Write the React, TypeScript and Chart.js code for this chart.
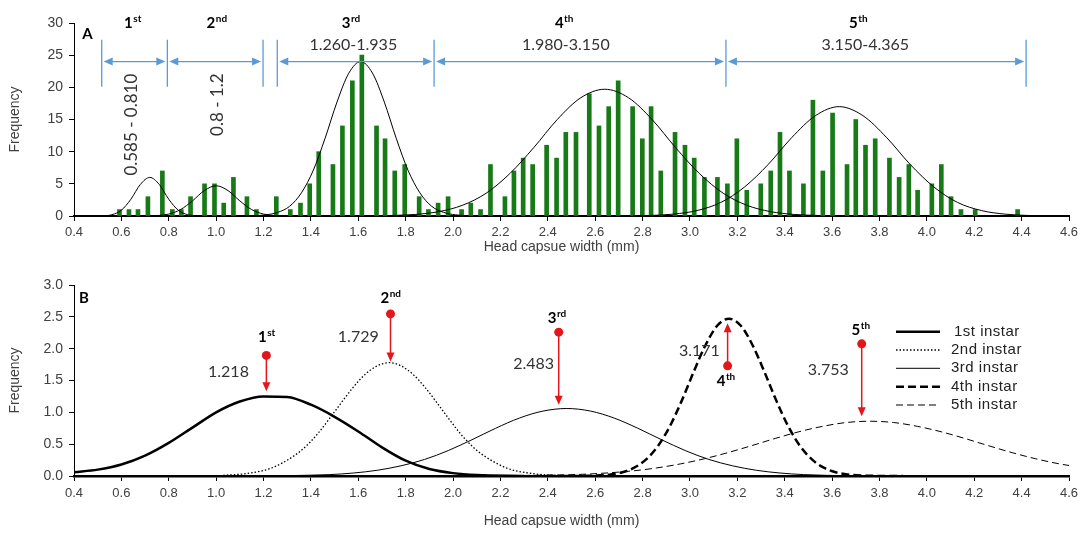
import React, { useEffect, useRef } from "react";
import { Chart, registerables } from "chart.js";
Chart.register(...registerables);

// ---------- Panel A: head capsule width frequency ----------
const widthsA = [0.592,0.632,0.670,0.712,0.773,0.815,0.853,0.892,0.951,0.993,1.032,1.073,1.130,1.170,1.254,1.313,1.356,1.395,1.433,1.493,1.533,1.575,1.615,1.677,1.713,1.754,1.796,1.857,1.896,1.937,1.979,2.036,2.075,2.116,2.158,2.219,2.257,2.296,2.336,2.395,2.437,2.476,2.519,2.575,2.616,2.657,2.697,2.758,2.799,2.836,2.877,2.937,2.979,3.018,3.061,3.116,3.158,3.198,3.240,3.299,3.341,3.380,3.420,3.479,3.519,3.561,3.602,3.663,3.700,3.741,3.782,3.842,3.883,3.924,3.961,4.021,4.061,4.102,4.144,4.204,4.383];
const freqA = [1,1,1,3,7,1,1,3,5,5,2,6,3,1,3,1,2,5,10,8,14,21,25,14,12,7,8,3,1,2,3,1,2,1,8,3,7,9,8,11,9,13,13,19,14,17,21,17,12,17,7,13,11,9,6,6,5,12,4,5,7,13,7,5,18,7,16,8,15,11,12,9,6,8,4,5,8,3,1,1,1];

// fitted curves in panel A
const fitA1X = [0.42,0.52,0.56,0.60,0.64,0.68,0.72,0.76,0.80,0.84,0.88,0.92];
const fitA1Y = [0,0.03,0.2,0.9,2.6,4.9,6.0,4.9,2.6,0.9,0.2,0.03];
const fitA2X = [0.72,0.75,0.80,0.85,0.90,0.95,1.00,1.05,1.10,1.15,1.20,1.25,1.30];
const fitA2Y = [0.01,0.06,0.3,1.0,2.35,3.95,4.7,3.95,2.35,1.0,0.3,0.06,0.01];
const fitA3X = [1.11,1.21,1.26,1.31,1.36,1.41,1.46,1.51,1.56,1.61,1.66,1.71,1.76,1.81,1.86,1.91,1.96,2.01,2.06];
const fitA3Y = [0.01,0.18,0.57,1.5,3.6,7.1,12.1,17.7,22.2,24,22.2,17.7,12.1,7.1,3.6,1.5,0.57,0.18,0.05];
const fitA4X = [1.74,1.84,1.94,2.04,2.14,2.24,2.34,2.44,2.54,2.64,2.74,2.84,2.94,3.04,3.14,3.24,3.34,3.44,3.54];
const fitA4Y = [0.08,0.24,0.68,1.67,3.55,6.6,10.6,15.0,18.4,19.7,18.4,15.0,10.6,6.6,3.55,1.67,0.68,0.24,0.08];
const fitA5X = [2.76,2.83,2.93,3.03,3.13,3.23,3.33,3.43,3.53,3.63,3.73,3.83,3.93,4.03,4.13,4.23,4.33,4.43,4.52];
const fitA5Y = [0.03,0.08,0.29,0.85,2.1,4.5,8.0,12.2,15.6,17.0,15.6,12.2,8.0,4.5,2.1,0.85,0.29,0.08,0.02];

// instar boundaries (mm) and labels
const boundsA = [0.517, 0.794, 1.198, 1.258, 1.92, 3.152, 4.419];
const rangeTextsA = ["1.260-1.935", "1.980-3.150", "3.150-4.365"];
const rotTextsA = ["0.585 - 0.810", "0.8 - 1.2"];
const instarBase = ["1", "2", "3", "4", "5"];
const instarSup = ["st", "nd", "rd", "th", "th"];

// ---------- Panel B: normal distributions of each instar ----------
const fitB1X = [0.4,0.5,0.6,0.7,0.8,0.9,1.0,1.1,1.2,1.3,1.4,1.5,1.6,1.7,1.8,1.9,2.0,2.1,2.3];
const fitB1Y = [0.06,0.1,0.18,0.32,0.52,0.76,1.0,1.17,1.25,1.24,1.12,0.93,0.7,0.45,0.24,0.11,0.045,0.015,0];
const fitB2X = [1.03,1.13,1.23,1.33,1.38,1.43,1.48,1.53,1.58,1.63,1.68,1.73,1.78,1.83,1.88,1.93,1.98,2.03,2.08,2.13,2.23,2.33,2.43,2.6];
const fitB2Y = [0.01,0.04,0.12,0.32,0.47,0.67,0.91,1.16,1.40,1.60,1.73,1.78,1.73,1.60,1.40,1.16,0.91,0.67,0.47,0.32,0.12,0.04,0.01,0];
const fitB3X = [1.28,1.48,1.58,1.68,1.78,1.88,1.98,2.08,2.18,2.28,2.38,2.48,2.58,2.68,2.78,2.88,2.98,3.08,3.18,3.28,3.38,3.48,3.68,3.9];
const fitB3Y = [0.004,0.022,0.047,0.09,0.16,0.26,0.40,0.57,0.75,0.91,1.02,1.06,1.02,0.91,0.75,0.57,0.40,0.26,0.16,0.09,0.047,0.022,0.004,0];
const fitB4X = [2.4,2.565,2.665,2.715,2.765,2.815,2.865,2.915,2.965,3.015,3.065,3.115,3.165,3.215,3.265,3.315,3.365,3.415,3.465,3.515,3.565,3.615,3.665,3.765,3.9];
const fitB4Y = [0,0.003,0.025,0.06,0.13,0.26,0.47,0.78,1.18,1.63,2.05,2.36,2.47,2.36,2.05,1.63,1.18,0.78,0.47,0.26,0.13,0.06,0.025,0.003,0];
const fitB5X = [2.3,2.56,2.76,2.86,2.96,3.06,3.16,3.26,3.36,3.46,3.56,3.66,3.76,3.86,3.96,4.06,4.16,4.26,4.36,4.46,4.56,4.6];
const fitB5Y = [0.008,0.029,0.081,0.127,0.19,0.27,0.367,0.476,0.59,0.695,0.78,0.84,0.86,0.84,0.78,0.695,0.59,0.476,0.367,0.27,0.19,0.165];

const legendB = ["1st instar", "2nd instar", "3rd instar", "4th instar", "5th instar"];
const meanTextsB = ["1.218", "1.729", "2.483", "3.171", "3.753"];

const xTickMin = 0.4, xTickMax = 4.6, xTickStep = 0.2;
const xTitle = "Head capsue width (mm)";
const yTitle = "Frequency";

// ---------- styling / annotation layout (not data) ----------
const FONT_AX = "'Liberation Sans', Arial, sans-serif";
const FONT_TXT = "Lato, 'Open Sans', sans-serif";
const BLUE = "#5b9bd5";
const RED = "#e3161c";
const GREEN = "#177a17";
const AX_TXT = "#404040";

const annotLayoutA = {
  arrowY: 24.0, vTop: 27.4, vBot: 20.1,
  instarX: [0.647, 1.002, 1.568, 2.468, 3.71], instarBaseY: 29.3,
  rangeX: [1.579, 2.476, 3.74], rangeY: 26.6,
  rotX: [0.642, 1.006], rotY: [14.2, 17.3],
};
const annotLayoutB = {
  arrows: [
    { x: 1.212, dot: 1.894, tip: 1.33 },
    { x: 1.736, dot: 2.546, tip: 1.80 },
    { x: 2.446, dot: 2.259, tip: 1.12 },
    { x: 3.159, dot: 1.73, tip: 2.40 },
    { x: 3.725, dot: 2.076, tip: 0.94 },
  ],
  labels: [
    { x: 1.212, y: 2.11 }, { x: 1.736, y: 2.71 }, { x: 2.438, y: 2.40 }, { x: 3.151, y: 1.41 }, { x: 3.72, y: 2.22 },
  ],
  nums: [
    { x: 1.052, y: 1.643 }, { x: 1.60, y: 2.19 }, { x: 2.34, y: 1.76 }, { x: 3.04, y: 1.97 }, { x: 3.584, y: 1.66 },
  ],
};

const pts = (xs: number[], ys: number[]) => xs.map((x, i) => ({ x, y: ys[i] }));

function drawSup(ctx: CanvasRenderingContext2D, base: string, sup: string, cx: number, by: number, size: number) {
  const bf = `bold ${size}px ${FONT_TXT}`;
  const sf = `bold ${Math.round(size * 0.68)}px ${FONT_TXT}`;
  ctx.font = bf; const wb = ctx.measureText(base).width;
  ctx.font = sf; const ws = ctx.measureText(sup).width;
  const x0 = cx - (wb + ws) / 2;
  ctx.textAlign = "left"; ctx.textBaseline = "alphabetic";
  ctx.font = bf; ctx.fillText(base, x0, by);
  ctx.font = sf; ctx.fillText(sup, x0 + wb + 0.5, by - size * 0.4);
}

function arrowHead(ctx: CanvasRenderingContext2D, x: number, y: number, dx: number, dy: number, len: number, half: number) {
  const bx = x - dx * len, by = y - dy * len;
  ctx.beginPath();
  ctx.moveTo(x, y);
  ctx.lineTo(bx - dy * half, by + dx * half);
  ctx.lineTo(bx + dy * half, by - dx * half);
  ctx.closePath();
  ctx.fill();
}

function drawAxisTitles(chart: any, xTitleY: number, letter: string, letterX: number, letterY: number) {
  const { ctx, chartArea } = chart;
  ctx.save();
  ctx.fillStyle = AX_TXT;
  ctx.font = `14px ${FONT_AX}`;
  ctx.textAlign = "center"; ctx.textBaseline = "middle";
  ctx.fillText(xTitle, (chartArea.left + chartArea.right) / 2 - 10, xTitleY);
  ctx.save();
  ctx.translate(15, (chartArea.top + chartArea.bottom) / 2);
  ctx.rotate(-Math.PI / 2);
  ctx.fillText(yTitle, 0, 0);
  ctx.restore();
  ctx.fillStyle = "#000";
  ctx.font = `bold 15px ${FONT_TXT}`;
  ctx.fillText(letter, letterX, letterY);
  ctx.restore();
}

const annotA = {
  id: "annotA",
  afterDraw(chart: any) {
    const { ctx, scales } = chart;
    const px = (v: number) => scales.x.getPixelForValue(v);
    const py = (v: number) => scales.y.getPixelForValue(v);
    drawAxisTitles(chart, 247, "A", 87.5, 34);
    const L = annotLayoutA;
    ctx.save();
    ctx.strokeStyle = BLUE; ctx.fillStyle = BLUE; ctx.lineWidth = 1.3;
    for (const b of boundsA) {
      ctx.beginPath(); ctx.moveTo(px(b), py(L.vTop)); ctx.lineTo(px(b), py(L.vBot)); ctx.stroke();
    }
    const ay = py(L.arrowY);
    const segs: [number, number][] = [[0, 1], [1, 2], [3, 4], [4, 5], [5, 6]];
    for (const [i, j] of segs) {
      const x1 = px(boundsA[i]) + 2, x2 = px(boundsA[j]) - 2;
      ctx.beginPath(); ctx.moveTo(x1 + 4, ay); ctx.lineTo(x2 - 4, ay); ctx.stroke();
      arrowHead(ctx, x1, ay, -1, 0, 9, 4);
      arrowHead(ctx, x2, ay, 1, 0, 9, 4);
    }
    ctx.fillStyle = "#000";
    for (let i = 0; i < 5; i++) drawSup(ctx, instarBase[i], instarSup[i], px(L.instarX[i]), py(L.instarBaseY), 15);
    ctx.fillStyle = "#333";
    ctx.font = `16px ${FONT_TXT}`;
    ctx.textAlign = "center"; ctx.textBaseline = "middle";
    rangeTextsA.forEach((t, i) => ctx.fillText(t, px(L.rangeX[i]), py(L.rangeY)));
    ctx.font = `17px ${FONT_TXT}`;
    rotTextsA.forEach((t, i) => {
      ctx.save(); ctx.translate(px(L.rotX[i]), py(L.rotY[i])); ctx.rotate(-Math.PI / 2);
      ctx.fillText(t, 0, 0); ctx.restore();
    });
    ctx.restore();
  },
};

const annotB = {
  id: "annotB",
  afterDraw(chart: any) {
    const { ctx, scales } = chart;
    const px = (v: number) => scales.x.getPixelForValue(v);
    const py = (v: number) => scales.y.getPixelForValue(v);
    drawAxisTitles(chart, 256, "B", 84, 33);
    const L = annotLayoutB;
    ctx.save();
    ctx.strokeStyle = RED; ctx.fillStyle = RED; ctx.lineWidth = 1.5;
    for (const a of L.arrows) {
      const x = px(a.x), y0 = py(a.dot), y1 = py(a.tip);
      const dir = y1 > y0 ? 1 : -1;
      ctx.beginPath(); ctx.moveTo(x, y0); ctx.lineTo(x, y1 - dir * 6); ctx.stroke();
      arrowHead(ctx, x, y1, 0, dir, 9, 4);
      ctx.beginPath(); ctx.arc(x, y0, 4.5, 0, Math.PI * 2); ctx.fill();
    }
    ctx.fillStyle = "#000";
    L.labels.forEach((p, i) => drawSup(ctx, instarBase[i], instarSup[i], px(p.x), py(p.y), 15));
    ctx.fillStyle = "#333";
    ctx.font = `16px ${FONT_TXT}`;
    ctx.textAlign = "center"; ctx.textBaseline = "middle";
    L.nums.forEach((p, i) => ctx.fillText(meanTextsB[i], px(p.x), py(p.y)));
    // legend
    const styles = [
      { w: 2.5, d: [] as number[] },
      { w: 1.3, d: [1.5, 2] },
      { w: 1, d: [] as number[] },
      { w: 2.5, d: [8, 4] },
      { w: 1, d: [7, 4] },
    ];
    const rowY = [66.7, 85, 103.3, 121.7, 140];
    ctx.font = `15px ${FONT_AX}`;
    (ctx as any).letterSpacing = "0.5px";
    ctx.textAlign = "left";
    ctx.strokeStyle = "#000";
    legendB.forEach((t, i) => {
      ctx.lineWidth = styles[i].w; ctx.setLineDash(styles[i].d);
      ctx.beginPath(); ctx.moveTo(896, rowY[i]); ctx.lineTo(940, rowY[i]); ctx.stroke();
      ctx.setLineDash([]);
      ctx.fillStyle = "#222";
      ctx.fillText(t, i === 0 ? 954 : 951, rowY[i]);
    });
    (ctx as any).letterSpacing = "0px";
    ctx.restore();
  },
};

function xScale(padding: number, borderW: number, height: number) {
  return {
    type: "linear" as const,
    min: xTickMin, max: xTickMax, offset: false,
    ticks: {
      stepSize: xTickStep, autoSkip: false, maxRotation: 0, padding,
      color: AX_TXT, font: { family: FONT_AX, size: 13 },
      callback: (v: any) => Number(v).toFixed(1),
    },
    grid: { drawOnChartArea: false, drawTicks: true, tickLength: 5, color: "#000", offset: false },
    border: { color: "#000", width: borderW },
    afterFit: (s: any) => { s.height = height; },
  };
}

function yScale(max: number, step: number, digits: number) {
  return {
    min: 0, max,
    ticks: {
      stepSize: step, padding: 6, color: AX_TXT, font: { family: FONT_AX, size: 14 },
      callback: (v: any) => Number(v).toFixed(digits),
    },
    grid: { drawOnChartArea: false, drawTicks: true, tickLength: 5, color: "#000" },
    border: { color: "#000", width: 1 },
    afterFit: (s: any) => { s.width = 74; },
  };
}

const lineDs = (xs: number[], ys: number[], w: number, dash: number[] = []) => ({
  type: "line" as const,
  data: pts(xs, ys),
  borderColor: "#000",
  borderWidth: w,
  borderDash: dash,
  pointRadius: 0,
  fill: false,
  cubicInterpolationMode: "monotone" as const,
  order: 1,
});

export default function App() {
  const refA = useRef<HTMLCanvasElement>(null);
  const refB = useRef<HTMLCanvasElement>(null);
  useEffect(() => {
    const chartA = new Chart(refA.current as HTMLCanvasElement, {
      type: "bar",
      data: {
        datasets: [
          lineDs(fitA1X, fitA1Y, 1),
          lineDs(fitA2X, fitA2Y, 1),
          lineDs(fitA3X, fitA3Y, 1),
          lineDs(fitA4X, fitA4Y, 1),
          lineDs(fitA5X, fitA5Y, 1),
          {
            type: "bar",
            data: pts(widthsA, freqA),
            backgroundColor: GREEN,
            barThickness: 4,
            order: 2,
          } as any,
        ],
      } as any,
      options: {
        responsive: false,
        animation: false,
        events: [],
        layout: { padding: { top: 23, right: 19, left: 0, bottom: 0 } },
        plugins: { legend: { display: false }, tooltip: { enabled: false } },
        scales: { x: xScale(4, 2, 49), y: yScale(30, 5, 0) } as any,
      },
      plugins: [annotA],
    });
    const chartB = new Chart(refB.current as HTMLCanvasElement, {
      type: "line",
      data: {
        datasets: [
          lineDs(fitB1X, fitB1Y, 2.5),
          lineDs(fitB2X, fitB2Y, 1.3, [1.5, 2]),
          lineDs(fitB3X, fitB3Y, 1),
          lineDs(fitB4X, fitB4Y, 2.5, [8, 4]),
          lineDs(fitB5X, fitB5Y, 1, [7, 4]),
        ],
      } as any,
      options: {
        responsive: false,
        animation: false,
        events: [],
        layout: { padding: { top: 20, right: 19, left: 0, bottom: 0 } },
        plugins: { legend: { display: false }, tooltip: { enabled: false } },
        scales: { x: xScale(5, 2.5, 59), y: yScale(3, 0.5, 1) } as any,
      },
      plugins: [annotB],
    });
    return () => { chartA.destroy(); chartB.destroy(); };
  }, []);
  return (
    <div style={{ position: "absolute", left: 0, top: 0, width: 1088, height: 535, background: "#fff" }}>
      <canvas ref={refA} width={1088} height={265} style={{ position: "absolute", left: 0, top: 0, width: 1088, height: 265 }} />
      <canvas ref={refB} width={1088} height={270} style={{ position: "absolute", left: 0, top: 265, width: 1088, height: 270 }} />
    </div>
  );
}
